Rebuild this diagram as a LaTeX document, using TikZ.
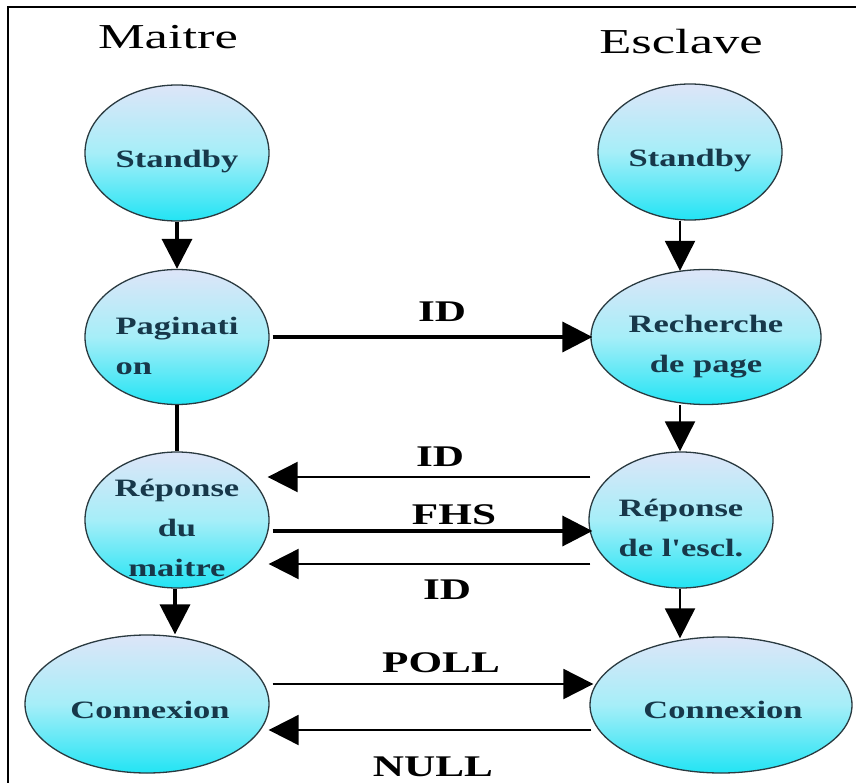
\documentclass[tikz,border=0pt]{standalone}
\usepackage{fontspec}
\usetikzlibrary{shapes.geometric,arrows.meta,calc}
\newfontfamily\titlefont[FakeStretch=1.5]{Liberation Serif}
\newfontfamily\statefont[FakeStretch=1.38]{Liberation Serif}
\newfontfamily\msgfont[FakeStretch=1.44]{Liberation Serif}
\definecolor{statetop}{HTML}{DDE5F8}
\definecolor{statemid}{HTML}{A6EEF8}
\definecolor{statebot}{HTML}{22E4F4}
\definecolor{statetext}{HTML}{17384A}
\definecolor{stateline}{HTML}{2A3A40}
\tikzset{
  state/.style={ellipse, draw=stateline, line width=1.3pt, inner sep=0pt,
    top color=statetop, bottom color=statebot, middle color=statemid},
  statelbl/.style={font=\statefont\bfseries\fontsize{25}{40}\selectfont,
    text=statetext, align=center, inner sep=0pt},
  title/.style={font=\titlefont\fontsize{35}{40}\selectfont, inner sep=0pt, anchor=base},
  msg/.style={font=\msgfont\bfseries\fontsize{30}{36}\selectfont, inner sep=0pt},
  tip/.style={-{Triangle[length=30pt,width=30pt]}},
  thick line/.style={line width=3.6pt},
  thin line/.style={line width=2pt},
}
\begin{document}
\begin{tikzpicture}[x=1pt,y=-1pt]
\useasboundingbox (0,0) rectangle (856,783);
\fill[white] (0,0) rectangle (856,783);
% frame (top and left edges)
\draw[line width=2pt] (8,783) -- (8,7) -- (856,7);

% column titles
\node[title] (tM) at (168,49) {Maitre};
\node[title] (tE) at (681,54) {Esclave};

% master states
\node[state, minimum width=184pt, minimum height=136pt] (sbM) at (177,153) {};
\node[state, minimum width=184pt, minimum height=135pt] (pag) at (177,337) {};
\node[state, minimum width=184pt, minimum height=136pt] (repM) at (177,520) {};
\node[state, minimum width=244pt, minimum height=138pt] (conM) at (147,704) {};

% slave states
\node[state, minimum width=184pt, minimum height=136pt] (sbS) at (690,152) {};
\node[state, minimum width=230pt, minimum height=135pt] (rech) at (706,337) {};
\node[state, minimum width=184pt, minimum height=136pt] (repS) at (681,520) {};
\node[state, minimum width=262pt, minimum height=136pt] (conS) at (721,705) {};

% state texts
\node[statelbl] (sbM-t) at (177,162) {Standby};
\node[statelbl] (sbS-t) at (690,161) {Standby};
\node[statelbl, align=left] (pag-t) at (177,346) {Paginati\\on};
\node[statelbl] (rech-t) at (706,347) {Recherche\\de page};
\node[statelbl] (repM-t) at (177,528) {Réponse\\du\\maitre};
\node[statelbl] (repS-t) at (681,528) {Réponse\\de l'escl.};
\node[statelbl] (conM-t) at (150,710) {Connexion};
\node[statelbl] (conS-t) at (723,710) {Connexion};

% column axes and message rows
\coordinate (colS) at (680,0);
\coordinate (colM) at (175,0);
\coordinate (yID1) at (0,337);
\coordinate (yID2) at (0,477);
\coordinate (yFHS) at (0,531);
\coordinate (yID3) at (0,564);
\coordinate (yPOLL) at (0,684);
\coordinate (yNULL) at (0,730);

% vertical transitions, master side
\draw[thick line, tip] (sbM.south) -- (pag.north);
\draw[thick line] (pag.south) -- (repM.north);
\draw[thick line, tip] (repM.south -| colM) -- (conM.north -| colM);

% vertical transitions, slave side
\draw[thin line, tip] (sbS.south -| colS) -- ($(rech.north -| colS)+(0,2)$);
\draw[thin line, tip] (rech.south -| colS) -- (repS.north -| colS);
\draw[thin line, tip] (repS.south -| colS) -- ($(conS.north -| colS)+(0,2)$);

% messages
\draw[thick line, tip] ($(pag.east |- yID1)+(3,0)$) -- ($(rech.west |- yID1)+(2,0)$);
\draw[thin line, tip] ($(repS.west |- yID2)+(2,0)$) -- ($(repM.east |- yID2)+(-2,0)$);
\draw[thick line, tip] ($(repM.east |- yFHS)+(3,0)$) -- ($(repS.west |- yFHS)+(4,0)$);
\draw[thin line, tip] ($(repS.west |- yID3)+(2,0)$) -- ($(repM.east |- yID3)+(-1,0)$);
\draw[thin line, tip] ($(conM.east |- yPOLL)+(3,0)$) -- ($(conS.west |- yPOLL)+(4,0)$);
\draw[thin line, tip] ($(conS.west |- yNULL)+(2,0)$) -- ($(conM.east |- yNULL)+(-1,0)$);

% message labels
\node[msg] (lID1) at (442,312) {ID};
\node[msg] (lID2) at (440,457) {ID};
\node[msg] (lFHS) at (454,515) {FHS};
\node[msg] (lID3) at (447,590) {ID};
\node[msg] (lPOLL) at (441,663) {POLL};
\node[msg] (lNULL) at (433,767) {NULL};
\end{tikzpicture}
\end{document}
